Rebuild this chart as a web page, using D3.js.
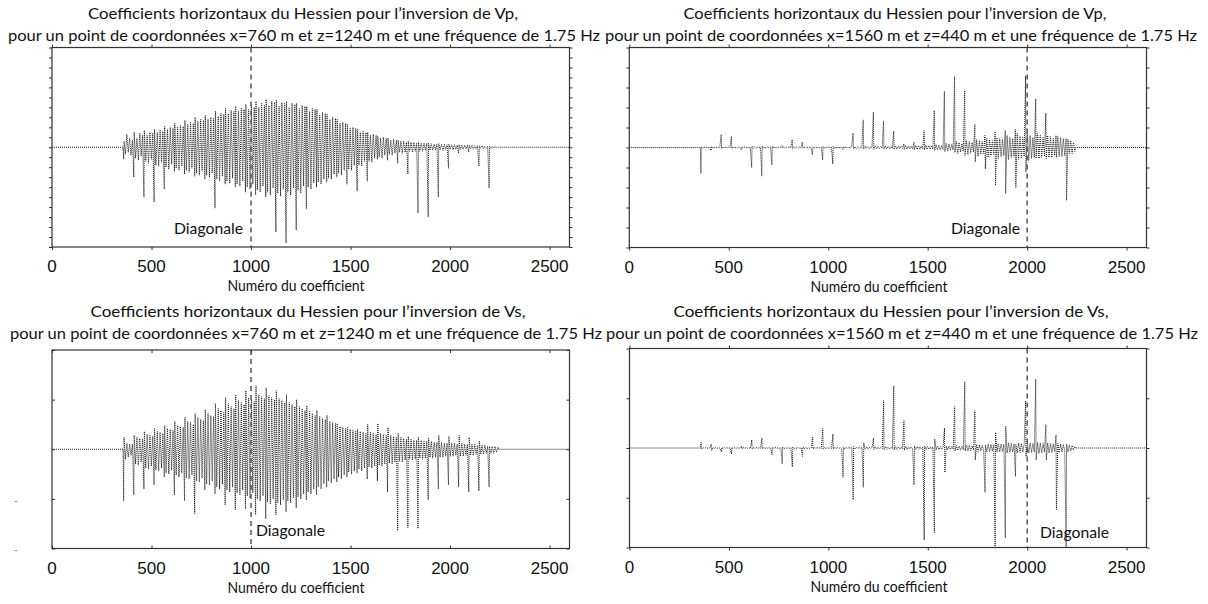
<!DOCTYPE html>
<html><head><meta charset="utf-8">
<script src="https://cdn.jsdelivr.net/npm/d3@7"></script>
<style>body{margin:0;background:#fff}svg{display:block}</style>
</head><body><svg id="c" width="1208" height="604"></svg>
<script>
// Column start indices of the Hessian row (one grid column every 51 coefficients)
const columnStarts = [360,411,462,513,564,615,666,717,768,819,870,921,972,1023,1074,1125,1176,1227,1278,1329,1380,1431,1482,1533,1584,1635,1686,1737,1788,1839,1890,1941,1992,2043,2094,2145,2196];
const sampleOffsets = [0, 2, 9, 16, 23, 30, 37, 44];
const xTicks = [0, 500, 1000, 1500, 2000, 2500];

// Vp, x=760 z=1240 (units: y tick steps, frame = +-10)
const vpA = [
[-1.2,0.6,-0.7,1.3,-0.5,0.9,-0.8,0.7],[-3.0,1.5,-1.1,0.9,-1.3,1.4,-0.9,1.2],[-5.0,1.7,-1.4,1.2,-1.6,1.5,-1.2,1.4],
[-5.5,1.8,-1.8,1.5,-1.9,1.7,-1.5,1.6],[-4.2,2.1,-2.0,1.8,-2.2,2.0,-1.7,1.9],[-2.4,2.4,-2.1,2.0,-2.3,2.2,-1.9,2.1],
[-2.7,2.7,-2.3,2.3,-2.5,2.5,-2.1,2.4],[-2.9,3.0,-2.6,2.6,-2.8,2.8,-2.4,2.7],[-3.2,3.2,-2.8,2.8,-3.0,3.0,-2.6,2.9],
[-6.1,3.6,-3.2,3.1,-3.4,3.4,-2.9,3.3],[-3.7,3.9,-3.4,3.4,-3.6,3.7,-3.1,3.6],[-4.0,4.1,-3.7,3.6,-3.9,3.9,-3.4,3.8],
[-4.5,4.3,-4.0,3.8,-4.2,4.1,-3.7,4.0],[-4.8,4.6,-4.3,4.0,-4.5,4.4,-3.9,4.2],[-5.0,4.8,-4.5,4.2,-4.8,4.6,-4.1,4.5],
[-8.5,4.7,-4.6,4.1,-4.9,4.5,-4.2,4.4],[-9.6,4.6,-4.5,4.0,-4.8,4.4,-4.1,4.3],[-8.3,4.4,-4.3,3.9,-4.6,4.2,-3.9,4.1],
[-6.2,4.1,-4.0,3.6,-4.2,3.9,-3.6,3.8],[-4.0,3.8,-3.5,3.2,-3.7,3.5,-3.2,3.4],[-3.5,3.3,-3.1,2.8,-3.2,3.0,-2.7,2.9],
[-3.0,2.8,-2.6,2.4,-2.8,2.5,-2.3,2.4],[-3.7,2.3,-2.2,1.9,-2.3,2.0,-1.8,1.9],[-4.4,1.8,-1.8,1.5,-1.9,1.6,-1.4,1.5],
[-3.4,1.5,-1.4,1.2,-1.5,1.3,-1.1,1.2],[-1.2,1.1,-1.0,0.9,-1.1,1.0,-0.8,0.9],[-1.3,0.9,-0.7,0.7,-0.8,0.8,-0.6,0.7],
[-1.6,0.7,-0.5,0.6,-0.6,0.6,-0.5,0.5],[-2.7,0.6,-0.4,0.5,-0.5,0.5,-0.4,0.4],[-6.6,0.5,-0.4,0.4,-0.4,0.4,-0.3,0.4],
[-7.0,0.4,-0.3,0.35,-0.3,0.3,-0.25,0.3],[-5.0,0.35,-0.25,0.3,-0.3,0.3,-0.2,0.25],[-2.1,0.3,-0.2,0.25,-0.25,0.25,-0.2,0.2],
[-0.6,0.25,-0.2,0.2,-0.2,0.2,-0.15,0.2],[-0.5,0.2,-0.15,0.2,-0.2,0.15,-0.15,0.15],[-1.9,0.15,-0.1,0.15,-0.15,0.1,-0.1,0.1],
[-4.1,0.1,-0.1,0.1,-0.1,0.1,-0.05,0.05]
];
// Vp, x=1560 z=440 (frame = +-5)
const vpB = [
[-1.3,0.05,-0.03,0.02,-0.02,0.02,-0.01,0.01],[-0.15,0.05,-0.04,0.03,-0.02,0.02,-0.02,0.01],[0.65,-0.05,0.04,-0.03,0.02,-0.02,0.02,-0.01],
[0.55,-0.05,0.04,-0.03,0.02,-0.02,0.02,-0.01],[-0.1,0.04,-0.03,0.02,-0.02,0.02,-0.01,0.01],[-1.0,0.06,-0.04,0.03,-0.03,0.02,-0.02,0.02],
[-1.43,0.07,-0.05,0.04,-0.03,0.03,-0.02,0.02],[-0.87,0.06,-0.04,0.04,-0.03,0.03,-0.02,0.02],[0.1,-0.03,0.03,-0.02,0.02,-0.02,0.02,-0.01],
[0.4,-0.05,0.04,-0.03,0.03,-0.02,0.02,-0.02],[0.27,-0.04,0.03,-0.03,0.03,-0.02,0.02,-0.02],[-0.37,0.04,-0.03,0.03,-0.03,0.02,-0.02,0.02],
[-0.62,0.05,-0.04,0.04,-0.03,0.03,-0.02,0.02],[-0.82,0.06,-0.05,0.04,-0.04,0.03,-0.03,0.03],[-0.1,0.05,-0.04,0.04,-0.04,0.03,-0.03,0.03],
[0.72,-0.06,0.05,-0.05,0.04,-0.04,0.03,-0.03],[1.38,-0.08,0.06,-0.06,0.05,-0.05,0.04,-0.04],[1.77,-0.09,0.07,-0.07,0.06,-0.05,0.05,-0.04],
[1.32,-0.08,0.07,-0.07,0.06,-0.06,0.05,-0.05],[0.82,-0.1,0.08,-0.08,0.07,-0.06,0.06,-0.05],[0.18,-0.1,0.1,-0.08,0.08,-0.07,0.07,-0.06],
[0.27,-0.12,0.1,-0.1,0.09,-0.08,0.08,-0.07],[0.85,-0.12,0.12,-0.1,0.1,-0.09,0.09,-0.08],[1.85,-0.15,0.15,-0.12,0.12,-0.11,0.1,-0.1],
[2.8,-0.2,0.2,-0.18,0.18,-0.15,0.15,-0.12],[3.55,-0.25,0.3,-0.3,0.25,-0.22,0.2,-0.18],[2.85,-0.4,0.35,-0.35,0.3,-0.28,0.25,-0.22],
[1.15,-0.72,0.4,-0.45,0.35,-0.35,0.3,-0.3],[0.6,-1.07,0.45,-0.5,0.4,-0.4,0.35,-0.35],[0.8,-1.9,0.5,-0.55,0.45,-0.45,0.4,-0.4],
[0.85,-2.3,0.6,-0.6,0.5,-0.5,0.45,-0.45],[0.9,-2.0,0.7,-0.6,0.55,-0.55,0.5,-0.45],[3.58,-1.23,0.75,-0.65,0.6,-0.55,0.5,-0.5],
[2.43,-0.55,0.7,-0.55,0.6,-0.5,0.5,-0.45],[1.72,-0.55,0.6,-0.5,0.55,-0.5,0.45,-0.4],[0.6,-0.5,0.55,-0.45,0.5,-0.45,0.45,-0.4],
[0.45,-2.65,0.4,-0.3,0.35,-0.3,0.25,-0.2]
];
// Vs, x=760 z=1240 (frame = +-10)
const vsA = [
[-5.2,1.2,-1.0,0.6,-0.8,0.5,-0.6,0.5],[-4.6,1.4,-1.5,1.2,-1.6,1.1,-1.3,1.0],[-4.0,1.8,-1.9,1.5,-2.0,1.4,-1.7,1.3],
[-3.6,2.1,-2.1,1.8,-2.2,1.7,-1.9,1.6],[-2.8,2.4,-2.4,2.1,-2.5,2.0,-2.1,1.9],[-4.6,2.8,-2.6,2.4,-2.8,2.3,-2.4,2.2],
[-5.2,3.2,-2.9,2.8,-3.0,2.7,-2.6,2.5],[-6.5,3.6,-3.2,3.2,-3.3,3.0,-2.9,2.9],[-4.1,4.0,-3.5,3.6,-3.6,3.4,-3.2,3.3],
[-4.5,4.6,-3.8,4.1,-4.0,3.9,-3.5,3.7],[-5.6,5.2,-4.1,4.6,-4.3,4.3,-3.8,4.1],[-6.1,5.5,-4.4,4.9,-4.6,4.7,-4.1,4.5],
[-6.0,5.9,-4.7,5.2,-4.9,5.0,-4.4,4.8],[-6.6,6.4,-5.0,5.5,-5.2,5.3,-4.7,5.1],[-7.0,6.2,-5.3,5.4,-5.5,5.2,-5.0,5.0],
[-6.6,5.9,-5.4,5.1,-5.6,4.9,-5.1,4.7],[-6.3,5.5,-5.2,4.7,-5.4,4.5,-4.9,4.3],[-5.9,5.0,-4.8,4.3,-5.0,4.1,-4.5,3.9],
[-5.1,4.4,-4.3,3.8,-4.5,3.6,-4.0,3.4],[-4.6,3.9,-3.8,3.3,-4.0,3.1,-3.5,3.0],[-3.8,3.4,-3.2,2.8,-3.4,2.7,-3.0,2.6],
[-3.3,2.6,-2.8,2.3,-3.0,2.2,-2.6,2.1],[-2.8,2.2,-2.3,2.0,-2.5,1.9,-2.2,1.8],[-2.4,2.0,-2.0,1.8,-2.2,1.7,-1.9,1.6],
[-3.0,2.5,-1.8,1.7,-1.9,1.6,-1.7,1.5],[-3.2,2.6,-1.6,1.6,-1.7,1.5,-1.5,1.4],[-4.3,2.2,-1.4,1.4,-1.5,1.3,-1.3,1.2],
[-8.2,1.6,-1.2,1.2,-1.3,1.1,-1.1,1.0],[-7.9,1.3,-1.0,1.0,-1.1,0.9,-1.0,0.9],[-8.0,1.2,-0.9,0.9,-1.0,0.8,-0.9,0.8],
[-5.1,1.1,-0.8,0.8,-0.9,0.7,-0.8,0.7],[-4.0,1.4,-0.8,0.7,-0.8,0.6,-0.7,0.6],[-3.6,1.3,-0.7,0.6,-0.7,0.6,-0.6,0.5],
[-3.8,1.4,-0.7,0.6,-0.7,0.5,-0.6,0.5],[-4.3,1.2,-0.6,0.5,-0.6,0.5,-0.5,0.4],[-4.2,0.8,-0.5,0.4,-0.5,0.4,-0.4,0.3],
[-3.8,0.3,-0.4,0.3,-0.4,0.3,-0.3,0.2]
];
// Vs, x=1560 z=440 (frame = +-10)
const vsB = [
[0.57,-0.1,0.05,-0.05,0.03,-0.03,0.02,-0.02],[0.4,-0.25,0.05,-0.05,0.03,-0.03,0.02,-0.02],[-0.4,0.05,-0.05,0.03,-0.03,0.02,-0.02,0.02],
[-0.6,0.05,-0.05,0.03,-0.03,0.02,-0.02,0.02],[0.2,-0.1,0.05,-0.03,0.03,-0.02,0.02,-0.02],[0.8,-0.1,0.06,-0.05,0.04,-0.03,0.03,-0.02],
[1.0,-0.1,0.06,-0.05,0.04,-0.03,0.03,-0.02],[-0.67,0.08,-0.06,0.05,-0.04,0.03,-0.03,0.02],[-1.6,0.1,-0.08,0.05,-0.05,0.04,-0.03,0.03],
[-1.9,0.1,-0.08,0.05,-0.05,0.04,-0.03,0.03],[-0.84,0.1,-0.08,0.05,-0.05,0.04,-0.03,0.03],[1.14,-0.1,0.08,-0.06,0.05,-0.04,0.04,-0.03],
[1.94,-0.12,0.08,-0.08,0.06,-0.05,0.04,-0.04],[1.4,-0.1,0.08,-0.08,0.06,-0.05,0.04,-0.04],[-2.95,0.12,-0.1,0.08,-0.07,0.06,-0.05,0.05],
[-5.2,0.15,-0.1,0.08,-0.07,0.06,-0.05,0.05],[-3.95,0.5,-0.1,0.1,-0.08,0.07,-0.06,0.06],[1.0,-0.15,0.1,-0.1,0.09,-0.08,0.07,-0.06],
[4.75,-0.2,0.15,-0.12,0.1,-0.1,0.08,-0.08],[6.26,-0.2,0.15,-0.15,0.12,-0.1,0.1,-0.08],[2.75,-0.2,0.15,-0.15,0.12,-0.1,0.1,-0.1],
[-3.7,0.2,-0.15,0.15,-0.12,0.12,-0.1,0.1],[-9.25,0.2,-0.15,0.15,-0.13,0.12,-0.1,0.1],[-8.5,0.9,-0.2,0.2,-0.15,0.15,-0.12,0.12],
[2.0,-2.45,0.2,-0.2,0.18,-0.15,0.15,-0.12],[4.15,-0.3,0.25,-0.25,0.2,-0.2,0.18,-0.15],[6.67,-0.3,0.3,-0.3,0.25,-0.25,0.2,-0.2],
[3.75,-1.2,0.35,-0.35,0.3,-0.3,0.25,-0.25],[-4.46,0.3,-0.4,0.4,-0.35,0.35,-0.3,0.3],[-10,1.57,-0.4,0.45,-0.4,0.4,-0.35,0.35],
[-9.05,2.2,-0.5,0.5,-0.45,0.45,-0.4,0.4],[-2.85,0.33,-0.5,0.5,-0.45,0.45,-0.4,0.4],[4.75,-0.87,0.55,-0.5,0.5,-0.45,0.45,-0.4],
[6.93,-1.2,0.55,-0.55,0.5,-0.5,0.45,-0.4],[2.35,-1.2,0.5,-0.5,0.45,-0.45,0.4,-0.35],[1.3,-6.2,0.45,-0.45,0.4,-0.4,0.35,-0.3],
[-10,0.4,-0.4,0.3,-0.3,0.25,-0.2,0.15]
];

const titlesLine1 = [
 "Coefficients horizontaux du Hessien pour l’inversion de Vp,",
 "Coefficients horizontaux du Hessien pour l’inversion de Vp,",
 "Coefficients horizontaux du Hessien pour l’inversion de Vs,",
 "Coefficients horizontaux du Hessien pour l’inversion de Vs,"];
const titlesLine2 = [
 "pour un point de coordonnées x=760 m et z=1240 m et une fréquence de 1.75 Hz",
 "pour un point de coordonnées x=1560 m et z=440 m et une fréquence de 1.75 Hz",
 "pour un point de coordonnées x=760 m et z=1240 m et une fréquence de 1.75 Hz",
 "pour un point de coordonnées x=1560 m et z=440 m et une fréquence de 1.75 Hz"];
const diagonals = [1000, 2000, 1000, 2000];
const xLabel = "Numéro du coefficient";
const diagLabel = "Diagonale";

const panels = [
 {vals: vpA, diag: diagonals[0], x0: 52, x1: 569.5, y0: 47.5, y1: 247, yDom: [-10,10], yStep: 1, tIn: false,
  t1: {cx: 303, y: 19, w: 430}, t2: {cx: 304, y: 41, w: 592}, xl: 296, dl: {x: 243, y: 234, anchor: "end"}},
 {vals: vpB, diag: diagonals[1], x0: 629.3, x1: 1146.5, y0: 47.5, y1: 247.5, yDom: [-5,5], yStep: 1, tIn: false,
  t1: {cx: 895, y: 19, w: 423}, t2: {cx: 901, y: 41, w: 592}, xl: 879, dl: {x: 1020, y: 234, anchor: "end"}},
 {vals: vsA, diag: diagonals[2], x0: 52, x1: 569.5, y0: 350, y1: 548.5, yDom: [-10,10], yStep: 5, tIn: true,
  t1: {cx: 308, y: 317, w: 435}, t2: {cx: 306, y: 339, w: 592}, xl: 296, dl: {x: 256, y: 536, anchor: "start"}},
 {vals: vsB, diag: diagonals[3], x0: 629.5, x1: 1146.5, y0: 348.5, y1: 547.5, yDom: [-10,10], yStep: 5, tIn: false,
  t1: {cx: 891, y: 317, w: 435}, t2: {cx: 902, y: 339, w: 592}, xl: 879, dl: {x: 1040, y: 538, anchor: "start"}}
];

const svg = d3.select("#c");
const titleFont = "Lato, 'Open Sans', sans-serif";

panels.forEach((p, i) => {
  const x = d3.scaleLinear().domain([0, 2600]).range([p.x0, p.x1]);
  const y = d3.scaleLinear().domain(p.yDom).range([p.y1, p.y0]);
  const g = svg.append("g");

  const pts = [[0, 0], [columnStarts[0] - 3, 0]];
  columnStarts.forEach((c, k) => {
    p.vals[k].forEach((v, j) => pts.push([c + sampleOffsets[j], v]));
  });
  pts.push([columnStarts[columnStarts.length - 1] + 48, 0]);
  pts.push([2600, 0]);
  const line = d3.line().x(d => x(d[0])).y(d => y(d[1]));
  g.append("path").attr("d", line(pts)).attr("fill", "none")
    .attr("stroke", "#1a1a1a").attr("stroke-width", 1).attr("stroke-dasharray", "1,1");

  g.append("line").attr("x1", x(p.diag)).attr("x2", x(p.diag)).attr("y1", p.y0).attr("y2", p.y1)
    .attr("stroke", "#555").attr("stroke-width", 1.5).attr("stroke-dasharray", "5,4");

  const ts = p.tIn ? -3 : 3;
  const yTicks = d3.range(p.yDom[0], p.yDom[1] + 0.001, p.yStep);
  const yl = g.append("g").attr("transform", `translate(${p.x0},0)`)
    .call(d3.axisLeft(y).tickValues(yTicks).tickSize(ts).tickSizeOuter(0).tickFormat(""));
  const yr = g.append("g").attr("transform", `translate(${p.x1},0)`)
    .call(d3.axisRight(y).tickValues(yTicks).tickSize(ts).tickSizeOuter(0).tickFormat(""));
  const xb = g.append("g").attr("transform", `translate(0,${p.y1})`)
    .call(d3.axisBottom(x).tickValues(xTicks).tickSize(ts).tickSizeOuter(0).tickFormat(""));
  const xt = g.append("g").attr("transform", `translate(0,${p.y0})`)
    .call(d3.axisTop(x).tickValues(xTicks).tickSize(ts).tickSizeOuter(0).tickFormat(""));
  [yl, yr, xb, xt].forEach(a => { a.select(".domain").remove(); a.selectAll("line").attr("stroke", "#333"); });

  g.append("rect").attr("x", p.x0).attr("y", p.y0).attr("width", p.x1 - p.x0).attr("height", p.y1 - p.y0)
    .attr("fill", "none").attr("stroke", "#333").attr("stroke-width", 1.2);

  g.selectAll(".tl").data(xTicks).enter().append("text")
    .attr("x", d => x(d)).attr("y", p.y1 + 25).attr("text-anchor", "middle")
    .attr("font-family", "'Liberation Sans', Arial, sans-serif").attr("font-size", 17).attr("fill", "#111")
    .text(d => d);

  g.append("text").attr("x", p.xl).attr("y", p.y1 + 44).attr("text-anchor", "middle")
    .attr("font-family", titleFont).attr("font-size", 16).attr("fill", "#111")
    .attr("textLength", 137).attr("lengthAdjust", "spacingAndGlyphs").text(xLabel);

  [[p.t1, titlesLine1[i]], [p.t2, titlesLine2[i]]].forEach(([t, s]) => {
    g.append("text").attr("x", t.cx).attr("y", t.y).attr("text-anchor", "middle")
      .attr("font-family", titleFont).attr("font-size", 16).attr("fill", "#111")
      .attr("textLength", t.w).attr("lengthAdjust", "spacingAndGlyphs").text(s);
  });

  g.append("text").attr("x", p.dl.x).attr("y", p.dl.y).attr("text-anchor", p.dl.anchor)
    .attr("font-family", titleFont).attr("font-size", 16).attr("fill", "#111")
    .attr("textLength", 69).attr("lengthAdjust", "spacingAndGlyphs").text(diagLabel);
});

// small stray marks left of the lower-left panel
[500, 549].forEach(yy => svg.append("text").attr("x", 14).attr("y", yy + 4)
  .attr("font-family", "'Liberation Sans', sans-serif").attr("font-size", 11).attr("fill", "#888").text("-"));
</script></body></html>
